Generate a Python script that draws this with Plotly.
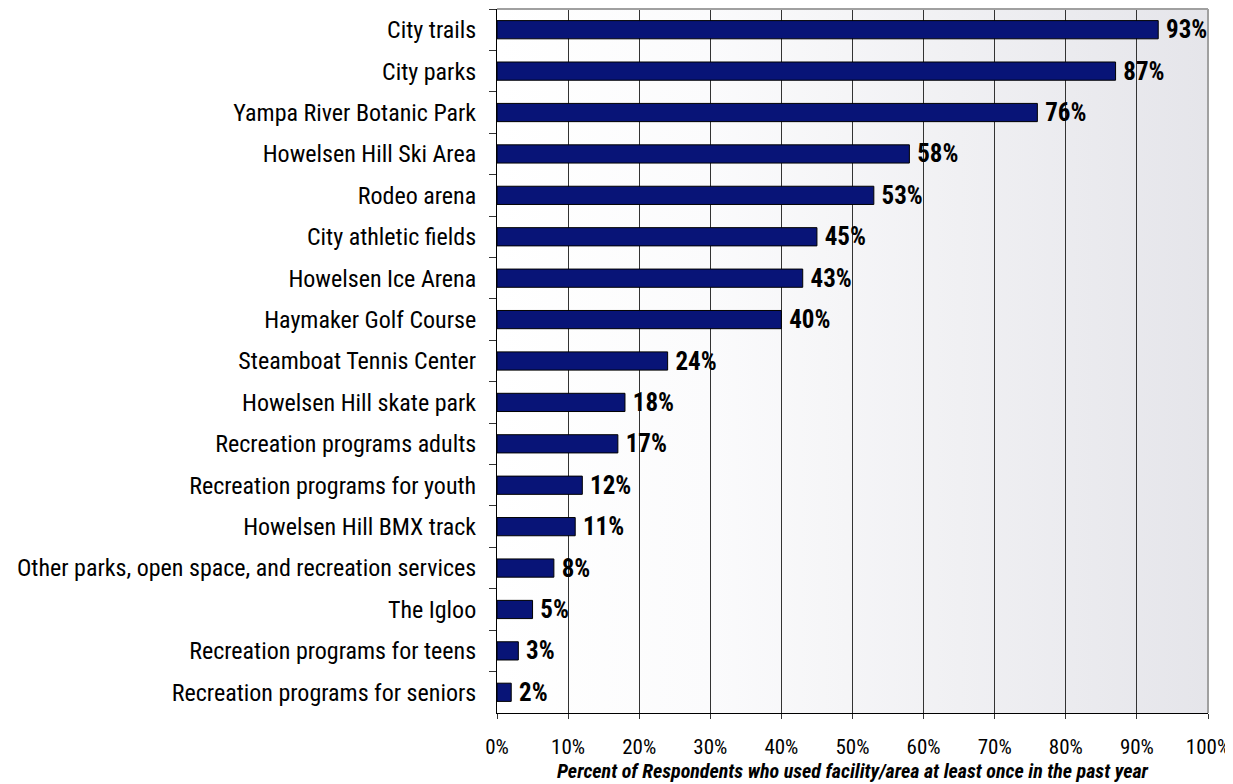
import base64
import plotly.graph_objects as go

facilities = [
    "City trails",
    "City parks",
    "Yampa River Botanic Park",
    "Howelsen Hill Ski Area",
    "Rodeo arena",
    "City athletic fields",
    "Howelsen Ice Arena",
    "Haymaker Golf Course",
    "Steamboat Tennis Center",
    "Howelsen Hill skate park",
    "Recreation programs adults",
    "Recreation programs for youth",
    "Howelsen Hill BMX track",
    "Other parks, open space, and recreation services",
    "The Igloo",
    "Recreation programs for teens",
    "Recreation programs for seniors",
]
pct_used = [93, 87, 76, 58, 53, 45, 43, 40, 24, 18, 17, 12, 11, 8, 5, 3, 2]
bar_labels = [f"\u2009{v}%" for v in pct_used]

FONT = "Liberation Sans Narrow, Arial Narrow, Roboto Condensed, Liberation Sans, sans-serif"

# background gradient, white on the left to pale grey on the right
svg = (
    '<svg xmlns="http://www.w3.org/2000/svg" width="100" height="100" preserveAspectRatio="none">'
    '<defs><linearGradient id="g" x1="0" y1="0" x2="1" y2="0">'
    '<stop offset="0" stop-color="#ffffff"/><stop offset="0.3" stop-color="#fbfbfc"/>'
    '<stop offset="1" stop-color="#e5e5ea"/></linearGradient></defs>'
    '<rect width="100" height="100" fill="url(#g)"/></svg>'
)
bg_src = "data:image/svg+xml;base64," + base64.b64encode(svg.encode()).decode()

fig = go.Figure()
fig.add_trace(go.Bar(
    x=pct_used,
    y=facilities,
    orientation="h",
    marker=dict(color="#081477", line=dict(color="#000000", width=1)),
    text=bar_labels,
    textposition="outside",
    constraintext="none",
    textfont=dict(family=FONT, size=25, color="#000000", weight="bold"),
    cliponaxis=False,
    width=0.44,
))

fig.add_layout_image(dict(
    source=bg_src, xref="x domain", yref="y domain", x=0, y=1,
    sizex=1, sizey=1, sizing="stretch", xanchor="left", yanchor="top",
    layer="below",
))

# grey frame on top and right
fig.add_shape(type="line", xref="x domain", yref="y domain", x0=0, x1=1, y0=1, y1=1,
              line=dict(color="#a0a0a0", width=2), layer="above")
fig.add_shape(type="line", xref="x domain", yref="y domain", x0=1, x1=1, y0=0, y1=1,
              line=dict(color="#a0a0a0", width=2), layer="above")

# page body adds an 8px offset, so the figure is 8px smaller than the window
fig.update_layout(
    width=1225,
    height=776,
    margin=dict(l=489, r=25, t=1, b=71),
    paper_bgcolor="#ffffff",
    plot_bgcolor="rgba(0,0,0,0)",
    showlegend=False,
    font=dict(family=FONT, size=24, color="#000000"),
)

fig.update_xaxes(
    range=[0, 100],
    dtick=10,
    ticksuffix="%",
    showgrid=True,
    gridcolor="#333333",
    gridwidth=1,
    showline=True,
    linecolor="#000000",
    linewidth=1,
    ticks="outside",
    ticklen=5,
    tickcolor="#333333",
    tickfont=dict(size=21),
    ticklabelstandoff=10,
    zeroline=False,
    automargin=False,
    title=dict(
        text="<b><i>Percent of Respondents who used facility/area at least once in the past year</i></b>",
        font=dict(size=20),
        standoff=2,
    ),
)

fig.update_yaxes(
    autorange="reversed",
    showline=True,
    linecolor="#000000",
    linewidth=1,
    ticks="outside",
    tickson="boundaries",
    ticklen=7,
    tickcolor="#333333",
    tickfont=dict(size=24),
    ticklabelstandoff=15,
    automargin=False,
)

fig.write_html("out.html")
